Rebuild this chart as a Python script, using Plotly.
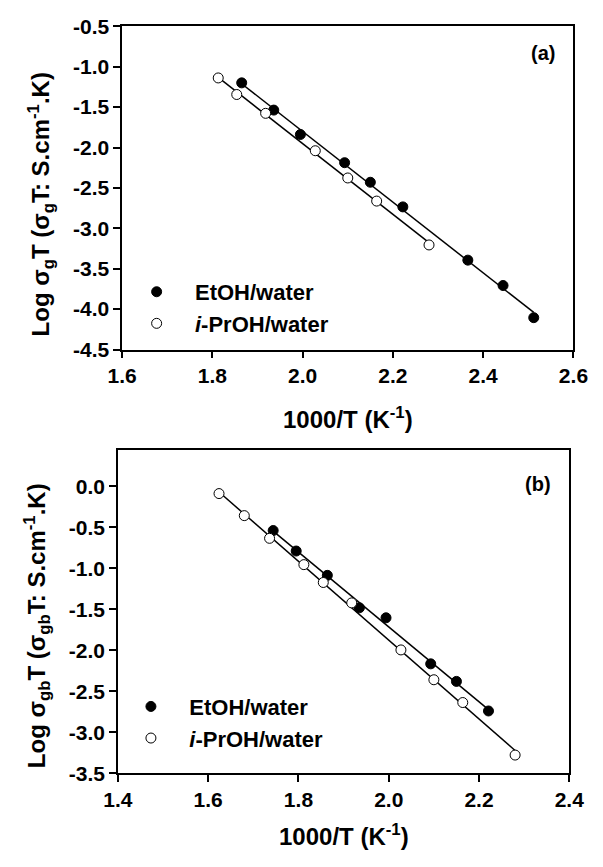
import numpy as np
import plotly.graph_objects as go

# ---------------- data ----------------
# Panel (a): grain conductivity
a_etoh_x = [1.865, 1.936, 1.995, 2.093, 2.150, 2.222, 2.366, 2.444, 2.512]
a_etoh_y = [-1.20, -1.537, -1.839, -2.188, -2.430, -2.735, -3.394, -3.708, -4.106]
a_ipr_x = [1.813, 1.854, 1.918, 2.028, 2.100, 2.164, 2.280]
a_ipr_y = [-1.139, -1.344, -1.577, -2.040, -2.377, -2.663, -3.206]

# Panel (b): grain-boundary conductivity
b_etoh_x = [1.744, 1.795, 1.864, 1.935, 1.994, 2.093, 2.150, 2.221]
b_etoh_y = [-0.538, -0.788, -1.085, -1.481, -1.603, -2.165, -2.379, -2.740]
b_ipr_x = [1.624, 1.680, 1.736, 1.812, 1.855, 1.918, 2.027, 2.100, 2.164, 2.280]
b_ipr_y = [-0.087, -0.356, -0.633, -0.954, -1.172, -1.421, -1.995, -2.359, -2.637, -3.278]

# tick values
a_xticks = [1.6, 1.8, 2.0, 2.2, 2.4, 2.6]
a_yticks = [-4.5, -4.0, -3.5, -3.0, -2.5, -2.0, -1.5, -1.0, -0.5]
b_xticks = [1.4, 1.6, 1.8, 2.0, 2.2, 2.4]
b_yticks = [-3.5, -3.0, -2.5, -2.0, -1.5, -1.0, -0.5, 0.0]

series_names = ["   EtOH/water", "   <i>i</i>-PrOH/water"]

W, H = 603, 867
FONT = "Liberation Sans, Arial, sans-serif"


def px_x(p):
    return p / W


def px_y(p):
    return (H - p) / H


fig = go.Figure()


def fit_line(x, y, xa, ya):
    k, b = np.polyfit(x, y, 1)
    xs = np.array([min(x), max(x)])
    fig.add_trace(go.Scatter(x=xs, y=k * xs + b, mode="lines",
                             line=dict(color="black", width=1.5),
                             xaxis=xa, yaxis=ya, showlegend=False,
                             hoverinfo="skip"))


def pts(x, y, xa, ya, filled, name, legend):
    fig.add_trace(go.Scatter(
        x=x, y=y, mode="markers", name=name, xaxis=xa, yaxis=ya,
        legend=legend,
        marker=dict(symbol="circle", size=10,
                    color="black" if filled else "white",
                    line=dict(color="black", width=1))))


fit_line(a_etoh_x, a_etoh_y, "x", "y")
fit_line(a_ipr_x, a_ipr_y, "x", "y")
fit_line(b_etoh_x, b_etoh_y, "x2", "y2")
fit_line(b_ipr_x, b_ipr_y, "x2", "y2")
pts(a_etoh_x, a_etoh_y, "x", "y", True, series_names[0], "legend")
pts(a_ipr_x, a_ipr_y, "x", "y", False, series_names[1], "legend")
pts(b_etoh_x, b_etoh_y, "x2", "y2", True, series_names[0], "legend2")
pts(b_ipr_x, b_ipr_y, "x2", "y2", False, series_names[1], "legend2")

tickfont = dict(family=FONT, size=21, color="black", weight="bold")


def axis(domain, rng, ticks, anchor):
    return dict(domain=domain, range=rng, anchor=anchor,
                tickmode="array", tickvals=ticks,
                ticktext=[f"{t:.1f}" for t in ticks],
                showline=True, linecolor="black", linewidth=1.5,
                mirror=True, ticks="outside", ticklen=7, tickwidth=1.5,
                tickcolor="black", showgrid=False, zeroline=False,
                tickfont=tickfont)


legfont = dict(family=FONT, size=22, color="black", weight="bold")

fig.update_layout(
    width=W, height=H, autosize=False,
    margin=dict(l=0, r=0, t=0, b=0),
    paper_bgcolor="white", plot_bgcolor="white",
    xaxis=axis([px_x(112.7), px_x(587.7)], [1.6, 2.6], a_xticks, "y"),
    yaxis=axis([px_y(346.7), px_y(14.7)], [-4.5, -0.5], a_yticks, "x"),
    xaxis2=axis([px_x(108.3), px_x(583.3)], [1.4, 2.4], b_xticks, "y2"),
    yaxis2=axis([px_y(782.0), px_y(449.5)], [-3.5, 0.45], b_yticks, "x2"),
    legend=dict(x=px_x(128), y=px_y(266), xanchor="left", yanchor="top",
                font=legfont, bgcolor="rgba(0,0,0,0)", borderwidth=0),
    legend2=dict(x=px_x(122), y=px_y(692), xanchor="left", yanchor="top",
                 font=legfont, bgcolor="rgba(0,0,0,0)", borderwidth=0),
)

annfont = dict(family=FONT, size=24, color="black", weight="bold")
lblfont = dict(family=FONT, size=20, color="black", weight="bold")
anns = [
    dict(text="1000/T (K<sup>-1</sup>)", x=px_x(350), y=px_y(417)),
    dict(text="1000/T (K<sup>-1</sup>)", x=px_x(346), y=px_y(845)),
    dict(text="Log σ<sub>g</sub>T (σ<sub>g</sub>T: S.cm<sup>-1</sup>.K)",
         x=px_x(27), y=px_y(198), textangle=-90),
    dict(text="Log σ<sub>gb</sub>T (σ<sub>gb</sub>T: S.cm<sup>-1</sup>.K)",
         x=px_x(23), y=px_y(630), textangle=-90),
    dict(text="(a)", x=px_x(556), y=px_y(42), font=lblfont),
    dict(text="(b)", x=px_x(550), y=px_y(485), font=lblfont),
]
for a in anns:
    a.setdefault("font", annfont)
    fig.add_annotation(xref="paper", yref="paper", showarrow=False,
                       xanchor="center", yanchor="middle", **a)

fig.write_html("out.html",
               config={"displayModeBar": False},
               post_script="document.body.style.margin='0px';"
                           "document.body.style.overflow='hidden';")
